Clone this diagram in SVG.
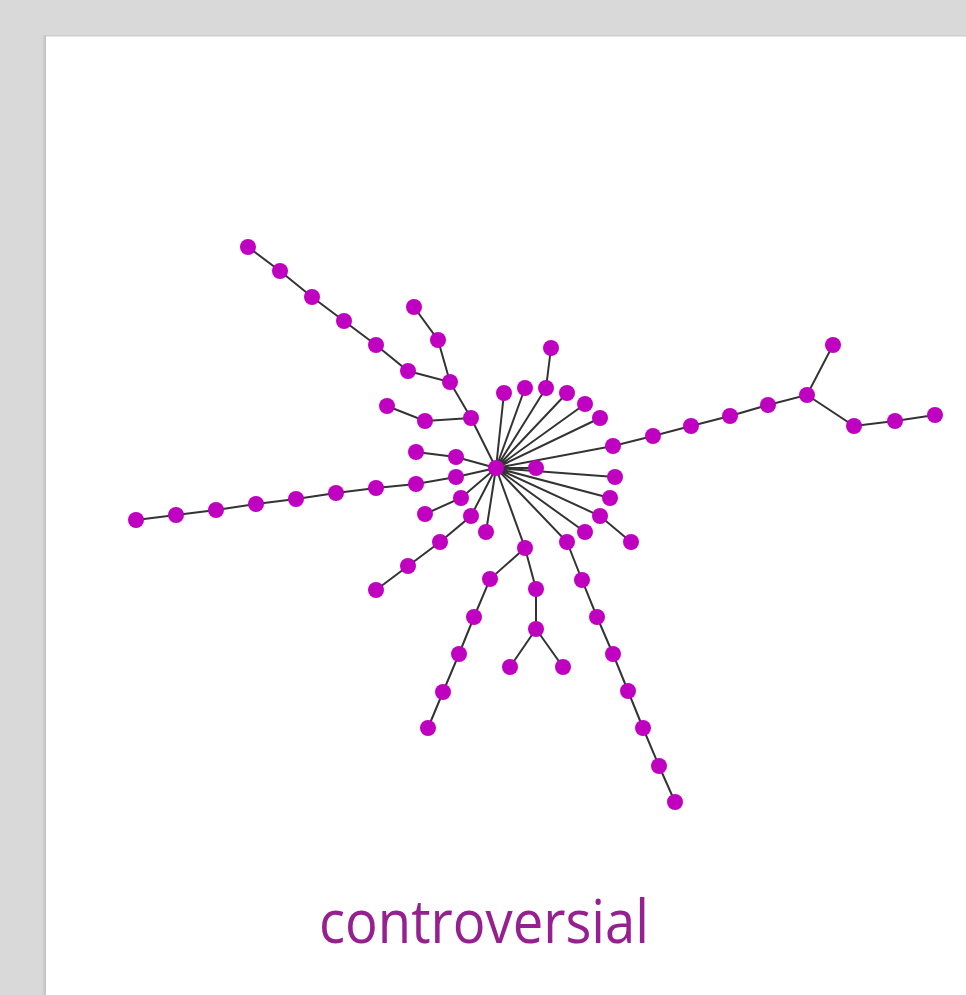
<svg xmlns="http://www.w3.org/2000/svg" width="966" height="995" viewBox="0 0 966 995">
<defs>
<linearGradient id="sh" x1="0" y1="0" x2="1" y2="0">
<stop offset="0" stop-color="#b8b8b8"/>
<stop offset="1" stop-color="#d9d9d9"/>
</linearGradient>
<style>
.e{stroke:#333;stroke-width:2;fill:none}
.n{fill:#c000c0}
.t{font-family:"Open Sans","Noto Sans",sans-serif;font-size:60px;fill:#962090}
</style>
</defs>
<rect width="966" height="995" fill="#d9d9d9"/>
<rect x="42" y="35" width="5" height="960" fill="url(#sh)" transform="matrix(-1 0 0 1 89 0)"/>
<rect x="46" y="35" width="930" height="970" fill="#fff"/>
<rect x="46" y="35" width="930" height="1.5" fill="#cfcfcf"/>
<g id="edges" class="e">
<path d="M496 468L471 418L450 382L408 371L376 345L344 321L312 297L280 271L248 247"/>
<path d="M450 382L438 340L414 307"/>
<path d="M471 418L425 421L387 406"/>
<path d="M496 468L504 393M496 468L525 388M496 468L546 388L551 348M496 468L567 393M496 468L585 404M496 468L600 418"/>
<path d="M496 468L613 446L653 436L691 426L730 416L768 405L807 395L833 345M807 395L854 426L895 421L935 415"/>
<path d="M496 468L536 468M496 468L615 477M496 468L610 498M496 468L600 516L631 542M496 468L585 532"/>
<path d="M496 468L567 542L582 580L597 617L613 654L628 691L643 728L659 766L675 802"/>
<path d="M496 468L525 548L490 579L474 617L459 654L443 692L428 728M525 548L536 589L536 629L510 667M536 629L563 667"/>
<path d="M496 468L486 532M496 468L471 516L440 542L408 566L376 590M496 468L461 498L425 514"/>
<path d="M496 468L456 477L416 484L376 488L336 493L296 499L256 504L216 510L176 515L136 520M496 468L456 457L416 452"/>
</g>
<g id="nodes" class="n">
<circle id="n0" cx="496" cy="468" r="8"/>
<circle cx="471" cy="418" r="8"/><circle cx="450" cy="382" r="8"/><circle cx="408" cy="371" r="8"/><circle cx="376" cy="345" r="8"/><circle cx="344" cy="321" r="8"/><circle cx="312" cy="297" r="8"/><circle cx="280" cy="271" r="8"/><circle cx="248" cy="247" r="8"/>
<circle cx="438" cy="340" r="8"/><circle cx="414" cy="307" r="8"/>
<circle cx="425" cy="421" r="8"/><circle cx="387" cy="406" r="8"/>
<circle cx="504" cy="393" r="8"/><circle cx="525" cy="388" r="8"/><circle cx="546" cy="388" r="8"/><circle cx="551" cy="348" r="8"/><circle cx="567" cy="393" r="8"/><circle cx="585" cy="404" r="8"/><circle cx="600" cy="418" r="8"/>
<circle cx="613" cy="446" r="8"/><circle cx="653" cy="436" r="8"/><circle cx="691" cy="426" r="8"/><circle cx="730" cy="416" r="8"/><circle cx="768" cy="405" r="8"/><circle cx="807" cy="395" r="8"/><circle cx="833" cy="345" r="8"/><circle cx="854" cy="426" r="8"/><circle cx="895" cy="421" r="8"/><circle cx="935" cy="415" r="8"/>
<circle cx="536" cy="468" r="8"/><circle cx="615" cy="477" r="8"/><circle cx="610" cy="498" r="8"/><circle cx="600" cy="516" r="8"/><circle cx="631" cy="542" r="8"/><circle cx="585" cy="532" r="8"/>
<circle cx="567" cy="542" r="8"/><circle cx="582" cy="580" r="8"/><circle cx="597" cy="617" r="8"/><circle cx="613" cy="654" r="8"/><circle cx="628" cy="691" r="8"/><circle cx="643" cy="728" r="8"/><circle cx="659" cy="766" r="8"/><circle cx="675" cy="802" r="8"/>
<circle cx="525" cy="548" r="8"/><circle cx="490" cy="579" r="8"/><circle cx="474" cy="617" r="8"/><circle cx="459" cy="654" r="8"/><circle cx="443" cy="692" r="8"/><circle cx="428" cy="728" r="8"/><circle cx="536" cy="589" r="8"/><circle cx="536" cy="629" r="8"/><circle cx="510" cy="667" r="8"/><circle cx="563" cy="667" r="8"/>
<circle cx="486" cy="532" r="8"/><circle cx="471" cy="516" r="8"/><circle cx="440" cy="542" r="8"/><circle cx="408" cy="566" r="8"/><circle cx="376" cy="590" r="8"/><circle cx="461" cy="498" r="8"/><circle cx="425" cy="514" r="8"/>
<circle cx="456" cy="477" r="8"/><circle cx="416" cy="484" r="8"/><circle cx="376" cy="488" r="8"/><circle cx="336" cy="493" r="8"/><circle cx="296" cy="499" r="8"/><circle cx="256" cy="504" r="8"/><circle cx="216" cy="510" r="8"/><circle cx="176" cy="515" r="8"/><circle cx="136" cy="520" r="8"/>
<circle cx="456" cy="457" r="8"/><circle cx="416" cy="452" r="8"/>
</g>
<g id="label">
<text class="t" x="319" y="943" textLength="330" lengthAdjust="spacingAndGlyphs">controversial</text>
</g>
</svg>
